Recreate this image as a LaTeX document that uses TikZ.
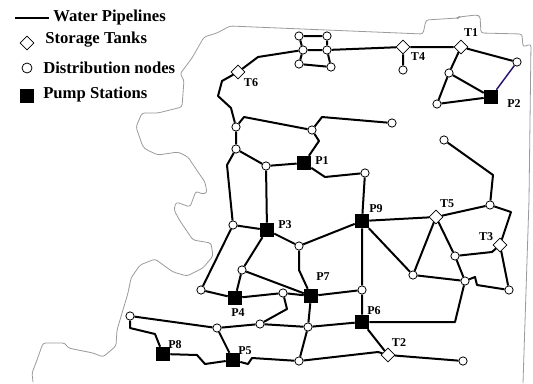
\documentclass[tikz,border=0pt]{standalone}
\usepackage{fontspec}
\setmainfont{Liberation Serif}
\usetikzlibrary{shapes.geometric,backgrounds}
\definecolor{ink}{HTML}{000000}
\definecolor{coast}{HTML}{9A9A9A}
\definecolor{indigo}{HTML}{2A1070}
\tikzset{
  pipe/.style={line width=1.5pt,draw=ink,line join=round},
  coastline/.style={line width=0.6pt,draw=coast,line join=round,rounded corners=2pt},
  junction/.style={circle,draw=ink,fill=white,line width=0.6pt,inner sep=0pt,minimum size=6.2pt},
  tank/.style={diamond,draw=ink,fill=white,line width=0.5pt,inner sep=0pt,minimum size=10.5pt},
  pump/.style={rectangle,fill=ink,inner sep=0pt,minimum size=10.5pt},
  tag/.style={inner sep=0pt,font=\bfseries\fontsize{9}{10}\selectfont},
  legendtext/.style={inner sep=0pt,anchor=west,font=\bfseries\fontsize{12.5}{14}\selectfont}
}
\begin{document}
\begin{tikzpicture}[x=0.75pt,y=-0.75pt]
  \useasboundingbox (0,0) rectangle (533,383);
  % pump stations
  \foreach \name/\px/\py in {P1/304/163,P2/491/97,P3/267/230,P4/235/298,P5/233/360,P6/362/322,P7/311/296,P8/163/354,P9/362/221}
    \node[pump] (\name) at (\px,\py) {};
  % tanks
  \foreach \name/\px/\py in {T1/461/47,T2/388/355,T3/500/245,T4/403/47,T5/436/217,T6/238/72}
    \node[tank] (\name) at (\px,\py) {};
  % distribution nodes
  \foreach \name/\px/\py in {a1/299/36,a2/327/36,b1/303/50,b2/327/50,c1/299/64,c2/331/67,
    d/403/70,e/517/62,f/449/73,g/437/104,h/236/127,i/312/130,j/392/123,k/444/140,
    l/236/149,m/266/166,n/365/173,o/233/225,q/299/246,r/242/270,s/201/290,t/283/293,
    u/260/324,v/308/327,w/217/328,x/130/316,y/299/361,z/362/290,
    aa/490/205,ab/455/256,ac/413/275,ad/465/281,ae/509/290,af/463/361}
    \node[junction] (\name) at (\px,\py) {};
  % labels
  \foreach \name/\px/\py in {T1/471/33,T2/399/343,T3/486/237,T4/418/57,T5/447/204,T6/251/83,
    P1/322/161,P2/514/104,P3/285/225,P4/238/313,P5/245/351,P6/374/311,P7/323/277,P8/175/345,P9/376/209}
    \node[tag] (lab\name) at (\px,\py) {\name};
  % legend
  \coordinate (lineA) at (15,18);
  \coordinate (lineB) at (49,18);
  \node[legendtext] (legPipe) at (53,17) {Water Pipelines};
  \node[tank] (legTank) at (27,43) {};
  \node[legendtext] (legTankText) at (45,40) {Storage Tanks};
  \node[junction,minimum size=7.5pt] (legNode) at (27,68) {};
  \node[legendtext] (legNodeText) at (43,68) {Distribution nodes};
  \node[pump] (legPump) at (27,96) {};
  \node[legendtext] (legPumpText) at (43,94) {Pump Stations};
  \begin{scope}[on background layer]
    % coast
    \draw[coastline] (33,382) -- (32,373) -- (37,360) -- (43,343) -- (65,343) -- (68,348) -- (93,353) -- (103,357) -- (116,346) -- (117,330) -- (128,293) -- (131,278) -- (140,265) -- (155,259) -- (173,272) -- (187,276) -- (203,268) -- (213,256) -- (211,243) -- (193,240) -- (180,221) -- (174,210) -- (176,202) -- (190,207) -- (196,191) -- (202,194) -- (207,193) -- (205,182) -- (198,172) -- (188,157) -- (178,152) -- (158,155) -- (147,150) -- (143,147) -- (136,127) -- (142,113) -- (158,113) -- (182,107) -- (184,80) -- (180,74) -- (192,58) -- (204,37) -- (217,33) -- (230,26) -- (423,34) -- (426,20) -- (458,18) -- (459,17) -- (476,15) -- (480,16) -- (481,33) -- (522,34) -- (523,47) -- (531,44) -- (529,200) -- (523,383);
    % top loop
    \draw[pipe] (a1) -- (a2) (a1) -- (b1) (a2) -- (b2) (b1) -- (b2) (b1) -- (c1) (b2) -- (c2) (c1) -- (c2);
    \draw[pipe] (T6) -- (258,57) -- (b1);
    \draw[pipe] (b2) -- (T4) (T4) -- (d) (T4) -- (T1);
    \draw[pipe] (T1) -- (e) (T1) -- (f) (f) -- (P2) (f) -- (g) (g) -- (P2);
    \draw[line width=1.1pt,draw=indigo] (e) -- (P2);
    % west side
    \draw[pipe] (T6) -- (222,81) -- (218,96) -- (231,108) -- (h);
    \draw[pipe] (h) -- (l) (h) -- (244,117) -- (i);
    \draw[pipe] (i) -- (322,117) -- (j);
    \draw[pipe] (i) -- (319,141) -- (P1);
    \draw[pipe] (P1) -- (325,177) -- (n);
    \draw[pipe] (n) -- (P9) (l) -- (m) (m) -- (P1) (m) -- (P3);
    \draw[pipe] (l) -- (227,165) -- (o);
    \draw[pipe] (o) -- (P3) (o) -- (s) (s) -- (P4);
    \draw[pipe] (P3) -- (q) (q) -- (P9) (P3) -- (r) (r) -- (P4) (r) -- (P7);
    \draw[pipe] (q) -- (299,270) -- (P7);
    \draw[pipe] (P4) -- (t) (t) -- (P7) (t) -- (287,309) -- (u);
    \draw[pipe] (P7) -- (z) (P7) -- (v) (z) -- (P9) (z) -- (P6);
    % south side
    \draw[pipe] (x) -- (w) (w) -- (u) (u) -- (v) (v) -- (P6) (v) -- (y) (w) -- (P5);
    \draw[pipe] (x) -- (130,328) -- (155,334) -- (P8);
    \draw[pipe] (P8) -- (197,355) -- (205,364) -- (P5);
    \draw[pipe] (P5) -- (248,364) -- (252,358) -- (y);
    \draw[pipe] (y) -- (378,352) -- (T2);
    \draw[pipe] (P6) -- (T2) (T2) -- (af);
    % east side
    \draw[pipe] (k) -- (493,175) -- (aa);
    \draw[pipe] (P9) -- (T5) (P9) -- (ac) (ac) -- (T5) (ac) -- (ad);
    \draw[pipe] (T5) -- (ab) (ab) -- (ad) (T5) -- (aa);
    \draw[pipe] (aa) -- (511,212) -- (T3);
    \draw[pipe] (ab) -- (492,252) -- (T3);
    \draw[pipe] (T3) -- (ae);
    \draw[pipe] (ad) -- (475,277) -- (477,285) -- (ae);
    \draw[pipe] (P6) -- (455,322) -- (ad);
    \draw[line width=1.2pt,draw=ink] (lineA) -- (lineB);
  \end{scope}
\end{tikzpicture}
\end{document}
